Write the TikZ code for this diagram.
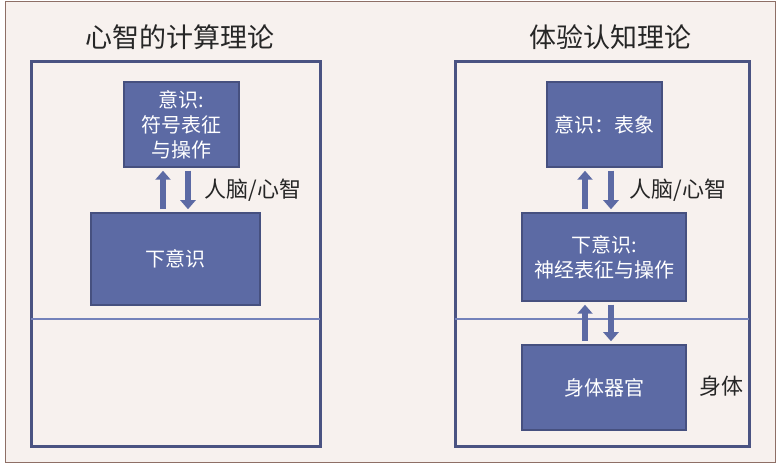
\documentclass[tikz,border=0pt]{standalone}
\usepackage{fontspec}
\usetikzlibrary{arrows.meta}
\newfontfamily\cjk{Noto Sans CJK SC}
\definecolor{paper}{HTML}{F7F1EE}
\definecolor{frameline}{HTML}{8E6F66}
\definecolor{panelline}{HTML}{4A5382}
\definecolor{splitline}{HTML}{7482BA}
\definecolor{boxfill}{HTML}{5C6AA4}
\definecolor{boxline}{HTML}{46507F}
\begin{document}
\begin{tikzpicture}[x=1pt, y=-1pt,
  box/.style = {draw=boxline, fill=boxfill, line width=1.5pt, text=white,
                align=center, inner sep=0pt, font=\cjk\fontsize{20}{25}\selectfont},
  panel/.style = {draw=panelline, line width=3pt},
  title/.style = {font=\cjk\fontsize{27}{30}\selectfont, text=black!85},
  side/.style = {font=\cjk\fontsize{22}{26}\selectfont, text=black!85},
  flow/.style = {draw=boxfill, line width=6pt, -{Triangle[length=9pt,width=15pt]},
                 shorten <=3pt, shorten >=3pt}]
\useasboundingbox (0,0) rectangle (782,470);
\fill[white] (0,0) rectangle (782,470);
\draw[fill=paper, draw=frameline, line width=1pt] (5,2) rectangle (775,462);

% computational theory of mind
\node[title] (ltitle) at (180,37) {心智的计算理论};
\draw[panel] (31,62) rectangle (320,446);
\draw[splitline, line width=1.5pt] (31,319) -- (320,319);
\node[box, minimum width=115pt, minimum height=85pt] (lcon) at (181.5,124.5)
  {意识:\\符号表征\\与操作};
\node[box, minimum width=169pt, minimum height=92pt] (lsub) at (175.5,259) {下意识};
\coordinate (lup) at (163,0);
\coordinate (ldown) at (188,0);
\draw[flow] (lsub.north -| lup) -- (lcon.south -| lup);
\draw[flow] (lcon.south -| ldown) -- (lsub.north -| ldown);
\node[side] (lmind) at (253,190) {人脑/心智};

% embodied cognition
\node[title] (rtitle) at (610,37) {体验认知理论};
\draw[panel] (455,62) rectangle (749,446);
\draw[splitline, line width=1.5pt] (455,319) -- (749,319);
\node[box, minimum width=115pt, minimum height=85pt] (rcon) at (604.5,124.5) {意识：表象};
\node[box, minimum width=164pt, minimum height=88pt] (rsub) at (604,257)
  {下意识:\\神经表征与操作};
\node[box, minimum width=164pt, minimum height=85pt] (organ) at (604,387.5) {身体器官};
\coordinate (rup) at (585,0);
\coordinate (rdown) at (611,0);
\draw[flow] (rsub.north -| rup) -- (rcon.south -| rup);
\draw[flow] (rcon.south -| rdown) -- (rsub.north -| rdown);
\draw[flow] (organ.north -| rup) -- (rsub.south -| rup);
\draw[flow] (rsub.south -| rdown) -- (organ.north -| rdown);
\node[side] (rmind) at (678,190) {人脑/心智};
\node[side] (body) at (721,386) {身体};
\end{tikzpicture}
\end{document}
